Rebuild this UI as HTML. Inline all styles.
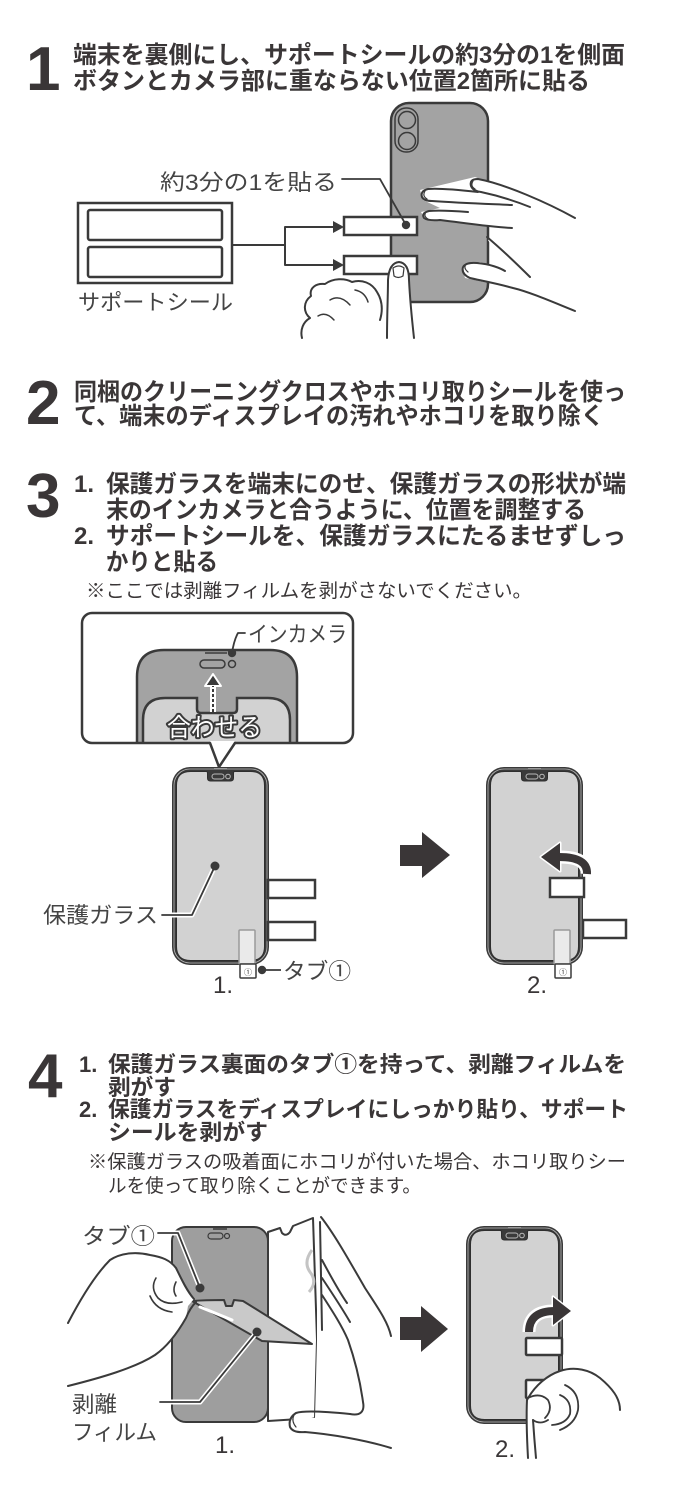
<!DOCTYPE html>
<html><head><meta charset="utf-8"><style>
html,body{margin:0;padding:0;background:#fff}
svg{display:block}
.h{font-family:"Liberation Sans","Noto Sans CJK JP",sans-serif;font-weight:700;font-size:24px;fill:#3a3637}
.h4{font-family:"Liberation Sans","Noto Sans CJK JP",sans-serif;font-weight:700;font-size:22px;fill:#3a3637}
.n{font-family:"Liberation Sans","Noto Sans CJK JP",sans-serif;font-weight:400;font-size:19px;fill:#3a3637}
.d{font-family:"Liberation Sans",sans-serif;font-weight:700;font-size:62px;fill:#3a3637}
.l{font-family:"Liberation Sans","Noto Sans CJK JP",sans-serif;font-weight:400;font-size:22px;fill:#444}
.k{stroke:#3a3a3a;fill:none;stroke-linecap:round;stroke-linejoin:round}
</style></head><body>
<svg width="700" height="1500" viewBox="0 0 700 1500" xmlns="http://www.w3.org/2000/svg">
<rect width="700" height="1500" fill="#fff"/>

<!-- STEP 1 -->
<text class="d" x="26" y="90">1</text>
<text class="h" x="73" y="63" textLength="552" lengthAdjust="spacingAndGlyphs">端末を裏側にし、サポートシールの約3分の1を側面</text>
<text class="h" x="73" y="89" textLength="517" lengthAdjust="spacingAndGlyphs">ボタンとカメラ部に重ならない位置2箇所に貼る</text>

<!-- card -->
<rect x="78" y="203" width="154" height="80" fill="#fff" stroke="#3a3a3a" stroke-width="2.5"/>
<rect x="88" y="210" width="134" height="30" rx="2" fill="#fff" stroke="#3a3a3a" stroke-width="2.5"/>
<rect x="88" y="247" width="134" height="30" rx="2" fill="#fff" stroke="#3a3a3a" stroke-width="2.5"/>
<text class="l" x="78" y="310" font-size="23" textLength="155" lengthAdjust="spacingAndGlyphs">サポートシール</text>
<!-- connector -->
<path class="k" d="M232,245 L285,245 M285,227 L285,265 M285,227 L334,227 M285,265 L334,265" stroke-width="2"/>
<polygon points="333,221 344,227 333,233" fill="#3a3a3a"/>
<polygon points="333,259 344,265 333,271" fill="#3a3a3a"/>

<!-- phone back -->
<rect x="391" y="103" width="97" height="199" rx="18" fill="#a3a3a3" stroke="#3a3a3a" stroke-width="2.5"/>
<rect x="395" y="108" width="23" height="44" rx="11" fill="none" stroke="#3a3a3a" stroke-width="1.5"/>
<circle cx="407" cy="120" r="8.5" fill="none" stroke="#3a3a3a" stroke-width="1.5"/>
<circle cx="407" cy="141" r="8.5" fill="none" stroke="#3a3a3a" stroke-width="1.5"/>
<!-- small seals -->
<rect x="344" y="217" width="73" height="18" fill="#fff" stroke="#3a3a3a" stroke-width="2.5"/>
<rect x="344" y="256" width="73" height="18" fill="#fff" stroke="#3a3a3a" stroke-width="2.5"/>
<!-- label -->
<text class="l" x="160" y="190" font-size="24" textLength="177" lengthAdjust="spacingAndGlyphs">約3分の1を貼る</text>
<path class="k" d="M342,179 L380,179 L406,225" stroke-width="1.8"/>
<circle cx="406" cy="225" r="4.2" fill="#3a3a3a"/>

<!-- right hand -->
<polygon points="420,190 475,177 575,216 610,216 610,312 575,312 513,288 465,278 462,266 480,262 505,268 488,240 510,228 425,219 421,212 440,208 423,200" fill="#fff"/>
<path class="k" stroke-width="2" d="M575,218 C548,203 505,184 478,179 Q469,179 471,186 Q473,191 481,192 C500,196 515,201 530,207"/>
<path class="k" stroke-width="2" d="M478,192 C460,190 440,188 428,189 Q420,191 422,197 Q424,201 432,201 C460,203 490,204 512,205"/>
<path class="k" stroke-width="2" d="M468,212 C455,211 440,210 429,211 Q421,213 424,218 Q428,221 440,220 C465,223 490,227 512,228"/>
<path class="k" stroke-width="2" d="M487,237 C500,248 515,262 530,277"/>
<path class="k" stroke-width="2" d="M575,311 C555,303 530,292 513,288 C495,283 478,280 470,278 Q461,274 463,267 Q466,262 477,263 C490,264 500,268 505,271"/>
<path class="k" stroke-width="1.2" d="M473,181 Q470,186 475,189 M425,191 Q422,196 427,199 M426,212 Q423,216 428,219 M466,264 Q463,268 468,272"/>

<!-- bottom hand -->
<path d="M302,340 C300,330 303,322 310,318 C303,312 303,302 311,296 C309,288 316,283 325,284 C333,278 345,278 352,282 C362,279 372,283 377,292 C382,300 383,310 380,320 L386,340 Z" fill="#fff"/>
<path class="k" stroke-width="2" d="M302,338 C300,330 303,322 310,318 C303,312 303,302 311,296 C309,288 316,283 325,284 C333,278 345,278 352,282 C362,279 372,283 377,292 C382,300 383,310 380,320"/>
<path class="k" stroke-width="1.5" d="M330,300 Q340,294 350,305 M318,316 Q326,311 334,320 M355,290 Q365,292 368,302"/>
<path d="M387,340 L388,285 Q388,263 398,262 Q409,263 409,285 L414,340 Z" fill="#fff"/>
<path class="k" stroke-width="2" d="M387,338 C387,315 388,295 388,280 Q389,263 399,262 Q409,263 409,280 C410,300 412,320 414,338"/>
<path class="k" stroke-width="1.2" d="M393,268 Q399,264 404,268 L403,276 Q398,279 394,276 Z"/>

<!-- STEP 2 -->
<text class="d" x="26" y="424">2</text>
<text class="h" x="74" y="400" textLength="552" lengthAdjust="spacingAndGlyphs">同梱のクリーニングクロスやホコリ取りシールを使っ</text>
<text class="h" x="74" y="424" textLength="530" lengthAdjust="spacingAndGlyphs">て、端末のディスプレイの汚れやホコリを取り除く</text>

<!-- STEP 3 -->
<text class="d" x="26" y="517">3</text>
<text class="h" x="74" y="492">1.</text>
<text class="h" x="106" y="492" textLength="520" lengthAdjust="spacingAndGlyphs">保護ガラスを端末にのせ、保護ガラスの形状が端</text>
<text class="h" x="106" y="518" textLength="480" lengthAdjust="spacingAndGlyphs">末のインカメラと合うように、位置を調整する</text>
<text class="h" x="74" y="544">2.</text>
<text class="h" x="106" y="544" textLength="520" lengthAdjust="spacingAndGlyphs">サポートシールを、保護ガラスにたるませずしっ</text>
<text class="h" x="106" y="570" textLength="112" lengthAdjust="spacingAndGlyphs">かりと貼る</text>
<text class="n" x="86" y="597" textLength="446" lengthAdjust="spacingAndGlyphs">※ここでは剥離フィルムを剥がさないでください。</text>

<!-- callout -->
<defs><clipPath id="cb"><rect x="82" y="613" width="271" height="130" rx="10"/></clipPath></defs>
<rect x="82" y="613" width="271" height="130" rx="10" fill="#fff"/>
<g clip-path="url(#cb)">
<path d="M137,750 L137,677 Q137,650 164,650 L270,650 Q297,650 297,677 L297,750 Z" fill="#a3a3a3" stroke="#3a3a3a" stroke-width="2.5"/>
<path d="M143,750 L143,720 Q143,698 165,698 L197,698 L197,709 Q197,713 201,713 L233,713 Q237,713 237,709 L237,698 L268,698 Q290,698 290,720 L290,750 Z" fill="#d2d2d2" stroke="#3a3a3a" stroke-width="2.5"/>
</g>
<rect x="82" y="613" width="271" height="130" rx="10" fill="none" stroke="#3a3a3a" stroke-width="2.5"/>
<path d="M205,653 L227,653" stroke="#3a3a3a" stroke-width="1.5"/>
<rect x="200" y="660" width="25" height="8" rx="4" fill="none" stroke="#3a3a3a" stroke-width="1.5"/>
<circle cx="232" cy="664" r="3.5" fill="none" stroke="#3a3a3a" stroke-width="1.5"/>
<circle cx="232" cy="653" r="4.2" fill="#3a3a3a"/>
<path class="k" stroke-width="1.8" d="M245,633 L238,633 Q234,640 232,653"/>
<text class="l" x="248" y="642" font-size="21" textLength="99" lengthAdjust="spacingAndGlyphs">インカメラ</text>
<!-- dashed arrow -->
<path d="M213,712 L213,684" stroke="#fff" stroke-width="6"/>
<polygon points="205,686 221,686 213,674" fill="#3a3a3a" stroke="#fff" stroke-width="2" stroke-linejoin="round"/>
<path d="M213,712 L213,686" stroke="#3a3a3a" stroke-width="2" stroke-dasharray="3,2"/>
<text x="167" y="736" font-family="Liberation Sans,Noto Sans CJK JP,sans-serif" font-size="25" fill="#fff" stroke="#3a3a3a" stroke-width="4" paint-order="stroke" stroke-linejoin="round" textLength="95" lengthAdjust="spacingAndGlyphs">合わせる</text>
<!-- tail -->
<polygon points="210,741 235,741 219,767" fill="#fff"/>
<path class="k" stroke-width="2.5" d="M210,743 L219,767 L235,743"/>

<!-- phone 1 step3 -->
<g transform="translate(172,767)">
<rect x="0" y="0" width="97" height="198" rx="18" fill="#3a3a3a"/>
<rect x="2" y="2" width="93" height="194" rx="16" fill="none" stroke="#bdbdbd" stroke-width="0.8"/>
<path d="M18.5,4.5 L34.5,4.5 Q35.5,4.5 35.5,6.5 L35.5,11 Q35.5,14 38.5,14 L58.5,14 Q61.5,14 61.5,11 L61.5,6.5 Q61.5,4.5 62.5,4.5 L78.5,4.5 Q92.5,4.5 92.5,18.5 L92.5,179.5 Q92.5,193.5 78.5,193.5 L18.5,193.5 Q4.5,193.5 4.5,179.5 L4.5,18.5 Q4.5,4.5 18.5,4.5 Z" fill="#d2d2d2" stroke="#2e2e2e" stroke-width="1"/>
<rect x="40" y="7" width="12" height="5" rx="2.5" fill="none" stroke="#bbb" stroke-width="1"/>
<circle cx="56" cy="9.5" r="2.3" fill="none" stroke="#bbb" stroke-width="1"/>
<path d="M42,1.5 L55,1.5" stroke="#999" stroke-width="1"/>
</g>
<rect x="268" y="880" width="47" height="18" fill="#fff" stroke="#3a3a3a" stroke-width="2.5"/>
<rect x="268" y="922" width="47" height="18" fill="#fff" stroke="#3a3a3a" stroke-width="2.5"/>
<rect x="239" y="930" width="16" height="34" rx="1" fill="#eaeaea" stroke="#9a9a9a" stroke-width="1.5"/>
<rect x="240" y="964" width="16" height="14" rx="1" fill="#fff" stroke="#3a3a3a" stroke-width="1.5"/>
<text x="248" y="975" font-size="8" text-anchor="middle" font-family="Noto Sans CJK JP,sans-serif" fill="#3a3a3a">①</text>
<path d="M162,915 L192,915 L215,866" stroke="#fff" stroke-width="5" fill="none" stroke-linejoin="round"/>
<path class="k" stroke-width="1.8" d="M162,915 L192,915 L215,866"/>
<circle cx="215" cy="866" r="4.5" fill="#3a3a3a"/>
<text class="l" x="43" y="923" font-size="23" textLength="115" lengthAdjust="spacingAndGlyphs">保護ガラス</text>
<circle cx="262" cy="970" r="4.2" fill="#3a3a3a"/>
<path d="M262,970 L281,970" stroke="#3a3a3a" stroke-width="1.8"/>
<text class="l" x="283" y="979" font-size="22" textLength="68" lengthAdjust="spacingAndGlyphs">タブ①</text>
<text x="213" y="993" font-family="Liberation Sans,sans-serif" font-size="24" fill="#3a3637">1.</text>

<!-- big arrow step3 -->
<polygon points="400,845 422,845 422,832 450,855 422,878 422,866 400,866" fill="#3a3637"/>

<!-- phone 2 step3 -->
<g transform="translate(486,767)">
<rect x="0" y="0" width="97" height="198" rx="18" fill="#3a3a3a"/>
<rect x="2" y="2" width="93" height="194" rx="16" fill="none" stroke="#bdbdbd" stroke-width="0.8"/>
<path d="M18.5,4.5 L34.5,4.5 Q35.5,4.5 35.5,6.5 L35.5,11 Q35.5,14 38.5,14 L58.5,14 Q61.5,14 61.5,11 L61.5,6.5 Q61.5,4.5 62.5,4.5 L78.5,4.5 Q92.5,4.5 92.5,18.5 L92.5,179.5 Q92.5,193.5 78.5,193.5 L18.5,193.5 Q4.5,193.5 4.5,179.5 L4.5,18.5 Q4.5,4.5 18.5,4.5 Z" fill="#d2d2d2" stroke="#2e2e2e" stroke-width="1"/>
<rect x="40" y="7" width="12" height="5" rx="2.5" fill="none" stroke="#bbb" stroke-width="1"/>
<circle cx="56" cy="9.5" r="2.3" fill="none" stroke="#bbb" stroke-width="1"/>
<path d="M42,1.5 L55,1.5" stroke="#999" stroke-width="1"/>
</g>
<rect x="550" y="878" width="34" height="19" fill="#fff" stroke="#3a3a3a" stroke-width="2.5"/>
<rect x="583" y="920" width="43" height="18" fill="#fff" stroke="#3a3a3a" stroke-width="2.5"/>
<rect x="554" y="930" width="16" height="34" rx="1" fill="#eaeaea" stroke="#9a9a9a" stroke-width="1.5"/>
<rect x="555" y="964" width="16" height="14" rx="1" fill="#fff" stroke="#3a3a3a" stroke-width="1.5"/>
<text x="563" y="975" font-size="8" text-anchor="middle" font-family="Noto Sans CJK JP,sans-serif" fill="#3a3a3a">①</text>
<!-- curved arrow left -->
<path d="M587,874 Q588,857 560,857" fill="none" stroke="#fff" stroke-width="13"/>
<polygon points="560,843 560,871 541,857" fill="#3a3637" stroke="#fff" stroke-width="3" stroke-linejoin="round" paint-order="stroke"/>
<path d="M587,874 Q588,857 559,857" fill="none" stroke="#3a3637" stroke-width="8"/>
<text x="527" y="993" font-family="Liberation Sans,sans-serif" font-size="24" fill="#3a3637">2.</text>

<!-- STEP 4 -->
<text class="d" x="28" y="1097">4</text>
<text class="h4" x="79" y="1072">1.</text>
<text class="h4" x="108" y="1072" textLength="518" lengthAdjust="spacingAndGlyphs">保護ガラス裏面のタブ①を持って、剥離フィルムを</text>
<text class="h4" x="108" y="1095" textLength="68" lengthAdjust="spacingAndGlyphs">剥がす</text>
<text class="h4" x="79" y="1117">2.</text>
<text class="h4" x="108" y="1117" textLength="520" lengthAdjust="spacingAndGlyphs">保護ガラスをディスプレイにしっかり貼り、サポート</text>
<text class="h4" x="108" y="1140" textLength="160" lengthAdjust="spacingAndGlyphs">シールを剥がす</text>
<text class="n" x="88" y="1168" textLength="538" lengthAdjust="spacingAndGlyphs">※保護ガラスの吸着面にホコリが付いた場合、ホコリ取りシー</text>
<text class="n" x="108" y="1192" textLength="313" lengthAdjust="spacingAndGlyphs">ルを使って取り除くことができます。</text>

<!-- step4 fig1: phone -->
<rect x="172" y="1227" width="96" height="195" rx="14" fill="#9e9e9e" stroke="#3a3a3a" stroke-width="2"/>
<path d="M213,1229 L227,1229" stroke="#3a3a3a" stroke-width="1.5"/>
<rect x="208" y="1233" width="15" height="6" rx="3" fill="none" stroke="#3a3a3a" stroke-width="1.2"/>
<circle cx="227" cy="1236" r="2.5" fill="none" stroke="#3a3a3a" stroke-width="1.2"/>
<rect x="268" y="1343" width="12" height="17" fill="none" stroke="#9a9a9a" stroke-width="1.5"/>
<rect x="268" y="1380" width="12" height="18" fill="none" stroke="#9a9a9a" stroke-width="1.5"/>
<!-- glass panel -->
<path d="M268,1232 L280,1228 L282,1233 Q286,1237 290,1232 L293,1226 L313,1218 L317,1340 L315,1418 L268,1421 Z" fill="#fff" stroke="#3a3a3a" stroke-width="2" stroke-linejoin="round"/>
<path d="M312,1250 Q303,1262 310,1272 Q318,1282 309,1292" fill="none" stroke="#c4c4c4" stroke-width="3"/>
<!-- right hand step4 -->
<path d="M317,1218 L323,1217 C335,1235 350,1262 365,1288 C378,1308 390,1322 392,1340 L392,1450 L300,1440 L290,1425 L293,1412 L315,1418 L317,1340 Z" fill="#fff"/>
<path class="k" stroke-width="2" d="M321,1217 C335,1235 350,1262 365,1288 C378,1308 388,1322 391,1336"/>
<path class="k" stroke-width="2" d="M320,1222 L322,1330 M322,1260 C330,1275 338,1290 347,1303 M322,1278 C332,1293 342,1308 350,1322 M322,1295 C333,1312 342,1326 348,1340 M348,1340 C355,1360 360,1380 363,1402 C365,1412 360,1416 350,1414"/>
<path class="k" stroke-width="2" d="M350,1414 C330,1412 305,1410 296,1413 Q288,1418 290,1427 Q293,1433 305,1432 C330,1434 365,1440 391,1448"/>
<path class="k" stroke-width="1.2" d="M294,1415 Q291,1421 296,1427"/>
<!-- film -->
<path d="M192,1301 C205,1300 215,1300 224,1300 L226,1306 L232,1306 L234,1300 L243,1301 L312,1344 L262,1341 Z" fill="#c9c9c9" stroke="#3a3a3a" stroke-width="2" stroke-linejoin="round"/>
<path d="M200,1307 Q215,1313 232,1320" stroke="#fff" stroke-width="3" fill="none" stroke-linecap="round"/>
<!-- left hand step4 -->
<path d="M60,1325 C75,1300 95,1275 110,1260 C122,1252 138,1252 150,1255 C162,1257 170,1260 176,1268 C180,1276 186,1290 194,1299 L188,1306 L186,1318 C178,1332 168,1346 155,1355 C135,1368 100,1378 60,1388 Z" fill="#fff"/>
<path class="k" stroke-width="2" d="M68,1323 C80,1300 95,1275 110,1260 C122,1252 138,1252 150,1255 C162,1257 170,1260 176,1268 C180,1276 186,1290 194,1299"/>
<path class="k" stroke-width="2" d="M68,1386 C100,1378 135,1368 155,1355 C168,1346 178,1332 186,1318 Q190,1308 196,1302"/>
<path class="k" stroke-width="1.6" d="M156,1278 Q150,1288 158,1298 Q166,1306 182,1302 M176,1282 Q172,1290 176,1296 M150,1296 Q156,1310 172,1312"/>
<!-- labels step4 fig1 -->
<path d="M158,1233 L178,1233 L200,1288" stroke="#fff" stroke-width="5" fill="none" stroke-linejoin="round"/>
<path class="k" stroke-width="1.8" d="M158,1233 L178,1233 L200,1288"/>
<circle cx="200" cy="1288" r="4.5" fill="#3a3a3a"/>
<text class="l" x="82" y="1244" font-size="22" textLength="73" lengthAdjust="spacingAndGlyphs">タブ①</text>
<path d="M160,1402 L200,1402 L257,1332" stroke="#fff" stroke-width="5" fill="none" stroke-linejoin="round"/>
<path class="k" stroke-width="1.8" d="M160,1402 L200,1402 L257,1332"/>
<circle cx="257" cy="1332" r="4.5" fill="#3a3a3a"/>
<text class="l" x="72" y="1412" font-size="23" textLength="45" lengthAdjust="spacingAndGlyphs">剥離</text>
<text class="l" x="72" y="1440" font-size="23" textLength="85" lengthAdjust="spacingAndGlyphs">フィルム</text>
<text x="215" y="1453" font-family="Liberation Sans,sans-serif" font-size="24" fill="#3a3637">1.</text>

<!-- big arrow step4 -->
<polygon points="400,1317 421,1317 421,1306 448,1329 421,1352 421,1340 400,1340" fill="#3a3637"/>

<!-- phone 2 step4 -->
<g transform="translate(466,1226)">
<rect x="0" y="0" width="97" height="198" rx="18" fill="#3a3a3a"/>
<rect x="2" y="2" width="93" height="194" rx="16" fill="none" stroke="#bdbdbd" stroke-width="0.8"/>
<path d="M18.5,4.5 L34.5,4.5 Q35.5,4.5 35.5,6.5 L35.5,11 Q35.5,14 38.5,14 L58.5,14 Q61.5,14 61.5,11 L61.5,6.5 Q61.5,4.5 62.5,4.5 L78.5,4.5 Q92.5,4.5 92.5,18.5 L92.5,179.5 Q92.5,193.5 78.5,193.5 L18.5,193.5 Q4.5,193.5 4.5,179.5 L4.5,18.5 Q4.5,4.5 18.5,4.5 Z" fill="#d2d2d2" stroke="#2e2e2e" stroke-width="1"/>
<rect x="40" y="7" width="12" height="5" rx="2.5" fill="none" stroke="#bbb" stroke-width="1"/>
<circle cx="56" cy="9.5" r="2.3" fill="none" stroke="#bbb" stroke-width="1"/>
<path d="M42,1.5 L55,1.5" stroke="#999" stroke-width="1"/>
</g>
<rect x="526" y="1338" width="36" height="17" rx="1" fill="#fff" stroke="#3a3a3a" stroke-width="2.5"/>
<rect x="526" y="1380" width="36" height="18" rx="1" fill="#fff" stroke="#3a3a3a" stroke-width="2.5"/>
<!-- curved arrow right -->
<path d="M529,1332 Q529,1311 554,1311" fill="none" stroke="#fff" stroke-width="13"/>
<polygon points="553,1297 553,1325 571,1311" fill="#3a3637" stroke="#fff" stroke-width="3" stroke-linejoin="round" paint-order="stroke"/>
<path d="M529,1332 Q529,1311 555,1311" fill="none" stroke="#3a3637" stroke-width="8"/>
<!-- hand step4 fig2 -->
<path d="M528,1460 L527,1400 C535,1385 548,1375 560,1371 C575,1366 590,1370 600,1378 C612,1388 620,1398 620,1410 L600,1416 L578,1424 L560,1432 L540,1440 L536,1460 Z" fill="#fff"/>
<path class="k" stroke-width="2" d="M527,1400 C535,1385 548,1375 560,1371 C575,1366 590,1370 600,1378 C612,1388 620,1398 620,1410"/>
<path class="k" stroke-width="2" d="M527,1400 C526,1420 527,1440 528,1458 M533,1420 C534,1435 535,1447 536,1458"/>
<path class="k" stroke-width="1.8" d="M528,1398 Q540,1392 548,1400 Q553,1410 545,1418 M560,1395 Q572,1400 570,1414 Q566,1424 552,1425 M565,1385 Q580,1392 578,1410 Q575,1424 560,1430 M533,1420 Q540,1425 548,1420"/>
<text x="495" y="1457" font-family="Liberation Sans,sans-serif" font-size="24" fill="#3a3637">2.</text>
</svg>
</body></html>
